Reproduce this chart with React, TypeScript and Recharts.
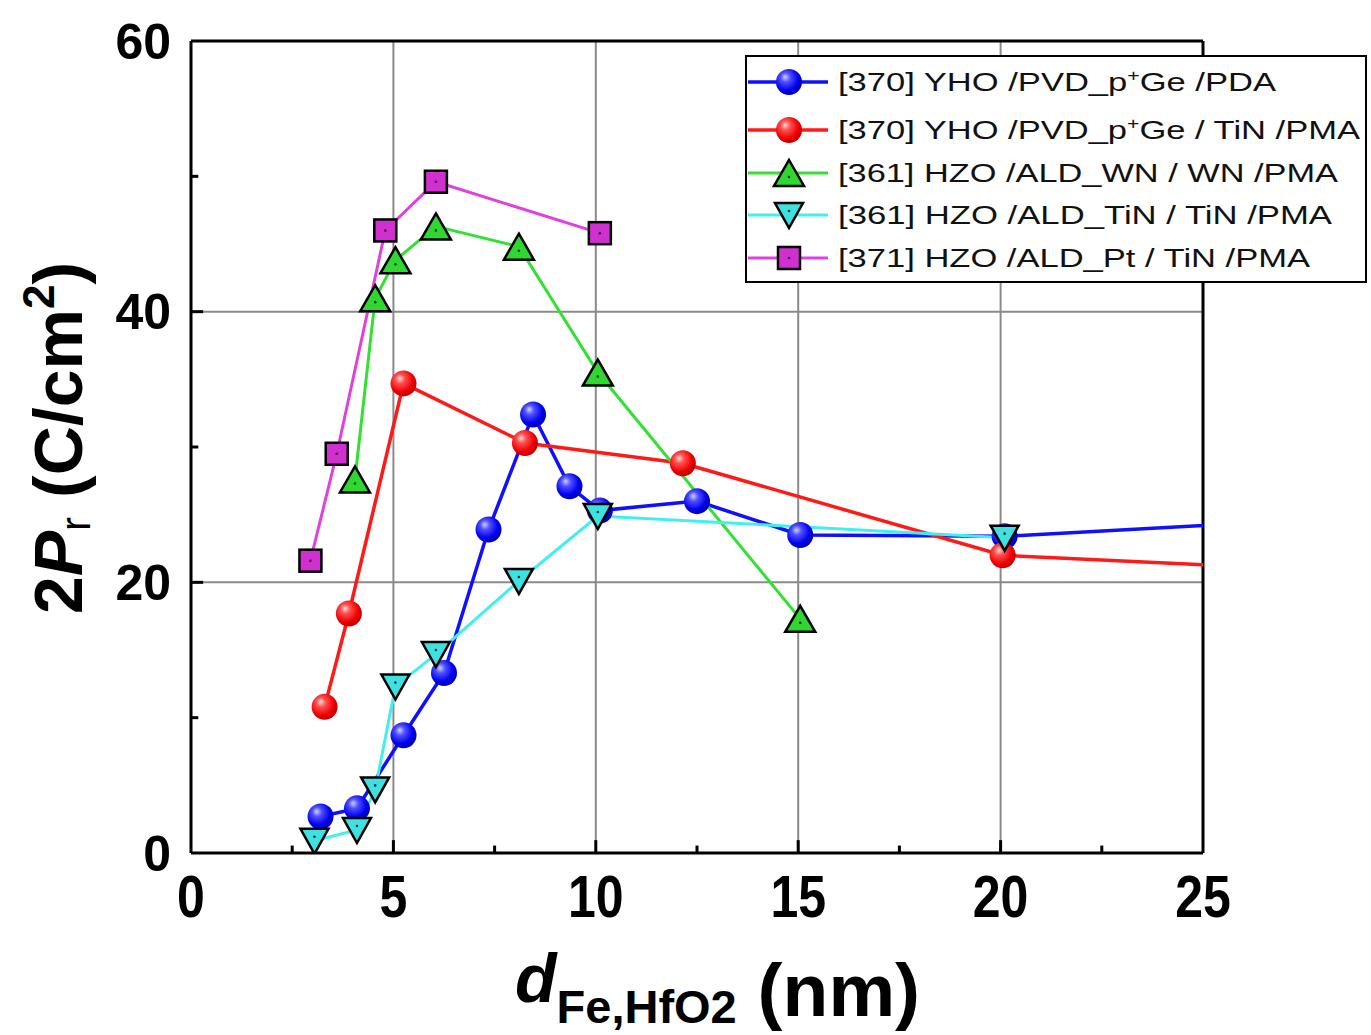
import { CartesianGrid, Legend, Line, LineChart, ReferenceLine, XAxis, YAxis } from 'recharts';

// [370] YHO /PVD_p+Ge /PDA
const pdaX = [3.2, 4.1, 5.25, 6.25, 7.35, 8.45, 9.35, 10.1, 12.5, 15.05, 20.1, 30];
const pdaY = [2.7, 3.3, 8.7, 13.3, 23.9, 32.4, 27.1, 25.3, 26.0, 23.5, 23.4, 25.0];
// [370] YHO /PVD_p+Ge / TiN /PMA
const pmaX = [3.3, 3.9, 5.25, 8.25, 12.15, 20.05, 30];
const pmaY = [10.8, 17.7, 34.7, 30.3, 28.8, 22.0, 20.6];
// [361] HZO /ALD_WN / WN /PMA
const wnX = [4.05, 4.55, 5.05, 6.05, 8.1, 10.05, 15.05];
const wnY = [27.6, 41.0, 43.8, 46.3, 44.8, 35.5, 17.3];
// [361] HZO /ALD_TiN / TiN /PMA
const tinX = [3.05, 4.1, 4.55, 5.05, 6.05, 8.1, 10.05, 20.1];
const tinY = [0.9, 1.7, 4.7, 12.3, 14.7, 20.1, 24.9, 23.3];
// [371] HZO /ALD_Pt / TiN /PMA
const ptX = [2.95, 3.6, 4.8, 6.05, 10.1];
const ptY = [21.6, 29.5, 46.0, 49.6, 45.8];

const xTicks = [0, 5, 10, 15, 20, 25];
const xMinor = [2.5, 7.5, 12.5, 17.5, 22.5];
const yTicks = [0, 20, 40, 60];
const yMinor = [10, 30, 50];

const toPoints = (xs: number[], ys: number[]) => xs.map((x, i) => ({ x, y: ys[i] }));

type Shape = 'sphereBlue' | 'sphereRed' | 'up' | 'down' | 'square';

const series: { name: string; sup?: boolean; pre: string; post: string; color: string; width: number; shape: Shape; data: { x: number; y: number }[]; textLen: number }[] = [
  { name: 'pda', pre: '[370] YHO /PVD_p', post: 'Ge /PDA', sup: true, color: '#1010ff', width: 3.5, shape: 'sphereBlue', data: toPoints(pdaX, pdaY), textLen: 438 },
  { name: 'pma', pre: '[370] YHO /PVD_p', post: 'Ge / TiN /PMA', sup: true, color: '#ff1a1a', width: 3.5, shape: 'sphereRed', data: toPoints(pmaX, pmaY), textLen: 522 },
  { name: 'wn', pre: '[361] HZO /ALD_WN / WN /PMA', post: '', color: '#33e033', width: 3, shape: 'up', data: toPoints(wnX, wnY), textLen: 500 },
  { name: 'tin', pre: '[361] HZO /ALD_TiN / TiN /PMA', post: '', color: '#40f0f0', width: 3, shape: 'down', data: toPoints(tinX, tinY), textLen: 494 },
  { name: 'pt', pre: '[371] HZO /ALD_Pt / TiN /PMA', post: '', color: '#e040e0', width: 3, shape: 'square', data: toPoints(ptX, ptY), textLen: 472 },
];

const FONT = '"Liberation Sans", Arial, sans-serif';

function marker(shape: Shape, cx: number, cy: number, key?: string | number) {
  if (shape === 'sphereBlue' || shape === 'sphereRed') {
    return <circle key={key} cx={cx} cy={cy} r={13} fill={`url(#${shape})`} />;
  }
  if (shape === 'up') {
    return (
      <g key={key}>
        <polygon points={`${cx},${cy - 13} ${cx + 15},${cy + 13} ${cx - 15},${cy + 13}`} fill="#2fd82f" stroke="#000" strokeWidth={2.5} strokeLinejoin="miter" />
        <circle cx={cx} cy={cy + 4} r={1.3} fill="#103010" />
      </g>
    );
  }
  if (shape === 'down') {
    return (
      <g key={key}>
        <polygon points={`${cx - 14},${cy - 12} ${cx + 14},${cy - 12} ${cx},${cy + 13}`} fill="#3ee0e0" stroke="#000" strokeWidth={2.5} />
        <circle cx={cx} cy={cy - 4} r={1.3} fill="#103030" />
      </g>
    );
  }
  return (
    <g key={key}>
      <rect x={cx - 11} y={cy - 11} width={22} height={22} fill="#d030d0" stroke="#000" strokeWidth={2.5} />
      <circle cx={cx} cy={cy} r={1.3} fill="#301030" />
    </g>
  );
}

const rowY = [27, 75, 118, 160, 203];

function LegendBox() {
  return (
    <svg width={622} height={228} style={{ display: 'block' }}>
      <defs>
        <radialGradient id="sphereBlue" cx="0.4" cy="0.38" r="0.62" fx="0.35" fy="0.3">
          <stop offset="0" stopColor="#d0d0ff" />
          <stop offset="0.3" stopColor="#5050ff" />
          <stop offset="0.75" stopColor="#0000f0" />
          <stop offset="1" stopColor="#0000b0" />
        </radialGradient>
        <radialGradient id="sphereRed" cx="0.4" cy="0.38" r="0.62" fx="0.35" fy="0.3">
          <stop offset="0" stopColor="#ffd8d8" />
          <stop offset="0.3" stopColor="#ff5050" />
          <stop offset="0.75" stopColor="#f00000" />
          <stop offset="1" stopColor="#c00000" />
        </radialGradient>
      </defs>
      <rect x={1} y={1} width={620} height={226} fill="#fff" stroke="#000" strokeWidth={2} />
      {series.map((s, i) => (
        <g key={s.name}>
          <line x1={3} x2={83} y1={rowY[i]} y2={rowY[i]} stroke={s.color} strokeWidth={s.width} />
          {marker(s.shape, 44, rowY[i])}
          <text x={93} y={rowY[i] + 9} fontSize={26} fontFamily={FONT} fill="#111" textLength={s.textLen} lengthAdjust="spacingAndGlyphs">
            {s.pre}
            {s.sup && (
              <tspan dy={-10} fontSize={16}>+</tspan>
            )}
            {s.sup && <tspan dy={10}>{s.post}</tspan>}
          </text>
        </g>
      ))}
    </svg>
  );
}

function XTick(props: any) {
  const { x, y, payload } = props;
  return (
    <g transform={`translate(${x},${y}) scale(1,1.18)`}>
      <text textAnchor="middle" dy="0.71em" fontSize={50} fontWeight="bold" fontFamily={FONT} fill="#000">
        {payload.value}
      </text>
    </g>
  );
}

function YTitle() {
  return (
    <text transform="translate(82,438) rotate(-90)" textAnchor="middle" fontSize={68} fontWeight="bold" fontFamily={FONT} fill="#000">
      2<tspan fontStyle="italic">P</tspan>
      <tspan fontSize={42} fontWeight="normal" dy={8}>r</tspan>
      <tspan dy={-8}> (C/cm</tspan>
      <tspan fontSize={44} dy={-28}>2</tspan>
      <tspan dy={28}>)</tspan>
    </text>
  );
}

function XTitle() {
  return (
    <text x={515} y={1002} fontWeight="bold" fontFamily={FONT} fill="#000">
      <tspan fontSize={68} fontStyle="italic">d</tspan>
      <tspan fontSize={47} dy={21}>Fe,HfO2</tspan>
      <tspan fontSize={75} dy={-7}> (nm)</tspan>
    </text>
  );
}

export default function App() {
  return (
    <div style={{ position: 'absolute', left: 0, top: 0, width: 1371, height: 1035, background: '#fff' }}>
      <LineChart width={1371} height={1035} margin={{ top: 41, right: 168, bottom: 122, left: 0 }}>
        <CartesianGrid stroke="#8a8a8a" strokeWidth={2} />
        <XAxis
          type="number"
          dataKey="x"
          domain={[0, 25]}
          ticks={xTicks}
          allowDataOverflow
          height={60}
          tickLine={false}
          tickSize={0}
          tickMargin={22}
          tick={<XTick />}
          axisLine={{ stroke: '#000', strokeWidth: 3 }}
          label={{ content: () => <XTitle /> }}
        />
        <YAxis
          type="number"
          dataKey="y"
          domain={[0, 60]}
          ticks={yTicks}
          allowDataOverflow
          width={191}
          tickLine={false}
          tickSize={0}
          tickMargin={20}
          tick={{ fontSize: 50, fontWeight: 'bold', fontFamily: FONT, fill: '#000' }}
          axisLine={{ stroke: '#000', strokeWidth: 3 }}
          label={{ content: () => <YTitle /> }}
        />
        <ReferenceLine y={60} stroke="#000" strokeWidth={3} />
        <ReferenceLine x={25} stroke="#000" strokeWidth={3} />
        {xTicks.slice(1, -1).map(t => (
          <ReferenceLine key={`xt${t}`} segment={[{ x: t, y: 0 }, { x: t, y: 0.95 }]} stroke="#000" strokeWidth={3} />
        ))}
        {xMinor.map(t => (
          <ReferenceLine key={`xm${t}`} segment={[{ x: t, y: 0 }, { x: t, y: 0.55 }]} stroke="#000" strokeWidth={3} />
        ))}
        {yTicks.slice(1, -1).map(t => (
          <ReferenceLine key={`yt${t}`} segment={[{ x: 0, y: t }, { x: 0.3, y: t }]} stroke="#000" strokeWidth={3} />
        ))}
        {yMinor.map(t => (
          <ReferenceLine key={`ym${t}`} segment={[{ x: 0, y: t }, { x: 0.18, y: t }]} stroke="#000" strokeWidth={3} />
        ))}
        {series.map(s => (
          <Line
            key={s.name}
            data={s.data}
            dataKey="y"
            type="linear"
            stroke={s.color}
            strokeWidth={s.width}
            isAnimationActive={false}
            dot={(p: any) => marker(s.shape, p.cx, p.cy, `${s.name}-${p.index}`)}
            activeDot={false}
          />
        ))}
        <Legend
          layout="vertical"
          align="center"
          verticalAlign="middle"
          content={() => <LegendBox />}
          wrapperStyle={{ position: 'absolute', left: 745, top: 55, width: 622, height: 228 }}
        />
      </LineChart>
    </div>
  );
}
